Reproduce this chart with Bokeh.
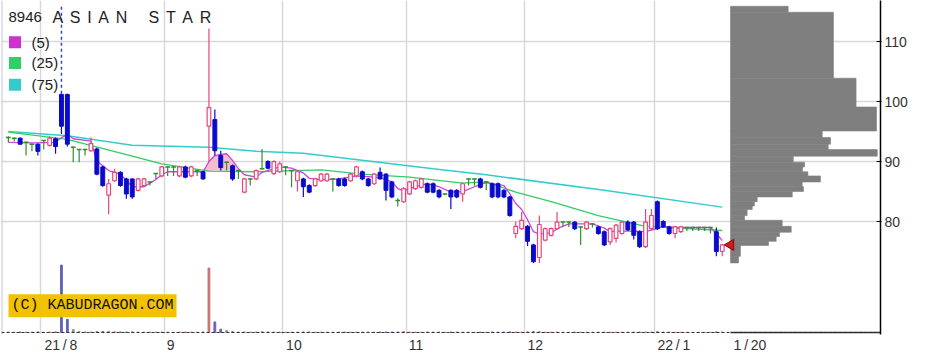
import math
from bokeh.plotting import figure
from bokeh.models import Range1d, FixedTicker, Label, Span
from bokeh.embed import file_html
from bokeh.resources import INLINE

# ---------------- data ----------------
opens = [94.0, 93.9, 93.9, 93.2, 92.9, 92.9, 93.5, 92.7, 93.8, 101.2,
         101.2, 92.4, 92.0, 92.0, 91.8, 92.1, 89.1, 84.4, 86.8, 88.2,
         87.1, 87.1, 85.2, 86.0, 86.6, 88.0, 87.6, 89.1, 89.1, 87.6,
         89.1, 87.6, 88.5, 88.3, 95.9, 97.0, 91.0, 89.9, 89.3, 88.5,
         84.9, 87.1, 87.1, 88.8, 90.0, 88.0, 88.3, 89.1, 88.5, 86.8,
         87.1, 86.0, 86.0, 86.8, 86.8, 87.1, 87.1, 87.1, 86.8, 87.6,
         88.3, 87.1, 86.3, 88.2, 87.9, 86.6, 83.5, 83.3, 84.6, 85.5,
         85.7, 86.3, 86.3, 85.2, 84.6, 85.2, 85.2, 84.6, 87.1, 87.1,
         87.1, 86.6, 86.3, 86.3, 85.2, 84.1, 78.0, 78.8, 79.2, 76.1,
         74.0, 76.9, 77.7, 78.8, 79.9, 79.9, 79.9, 79.1, 78.8, 79.6,
         79.1, 78.3, 76.6, 77.2, 78.0, 79.9, 79.9, 78.3, 75.8, 78.8,
         83.3, 80.0, 79.1, 78.0, 78.3, 79.0, 79.0, 79.0, 79.0, 79.0,
         78.3, 75.0]
closes = [94.0, 93.9, 92.9, 93.2, 92.9, 91.7, 93.5, 93.9, 92.5, 95.9,
          92.9, 92.4, 92.0, 92.0, 93.0, 87.9, 86.0, 86.3, 88.2, 86.0,
          84.6, 84.1, 87.1, 87.1, 86.6, 88.0, 89.1, 89.1, 89.1, 89.1,
          87.4, 89.1, 88.5, 87.1, 99.0, 91.8, 89.0, 89.9, 87.1, 88.5,
          87.1, 87.1, 88.5, 88.8, 88.9, 90.0, 89.6, 89.1, 88.5, 88.3,
          85.8, 84.9, 87.1, 87.9, 87.9, 87.1, 86.0, 86.0, 87.9, 89.1,
          87.1, 86.0, 87.9, 87.1, 85.2, 84.1, 83.5, 85.5, 86.6, 86.8,
          87.1, 84.9, 84.9, 84.1, 84.6, 84.1, 84.1, 86.3, 87.1, 87.1,
          85.7, 86.6, 84.1, 84.1, 84.1, 81.0, 79.2, 80.2, 76.7, 73.3,
          79.5, 78.8, 78.8, 79.9, 79.9, 79.9, 78.8, 79.1, 79.9, 79.6,
          78.0, 76.1, 78.8, 79.4, 79.9, 78.6, 77.7, 75.8, 79.9, 81.0,
          78.8, 79.1, 78.0, 79.1, 79.1, 79.0, 79.0, 79.0, 79.0, 79.0,
          75.0, 76.1]
highs = [94.2, 94.0, 94.0, 93.3, 93.0, 93.0, 93.5, 94.2, 94.0, 101.3,
         101.3, 92.5, 92.1, 92.1, 94.0, 92.3, 89.3, 87.1, 88.8, 88.4,
         87.3, 87.2, 87.3, 87.3, 86.7, 88.1, 89.2, 89.2, 89.2, 89.3,
         89.3, 89.3, 88.6, 88.4, 112.2, 98.7, 91.8, 90.0, 89.5, 88.6,
         87.3, 87.2, 88.7, 92.1, 90.2, 90.2, 90.0, 89.2, 88.6, 88.5,
         87.3, 86.2, 87.3, 88.1, 88.1, 87.2, 87.3, 87.3, 88.1, 89.3,
         88.5, 87.3, 88.1, 89.0, 88.1, 86.8, 83.9, 85.7, 86.8, 87.0,
         87.3, 86.5, 86.5, 85.4, 84.7, 85.4, 85.4, 86.5, 87.2, 87.2,
         87.3, 86.7, 86.5, 86.5, 85.4, 84.3, 80.0, 81.6, 79.4, 76.3,
         81.0, 79.0, 79.0, 81.6, 80.0, 80.0, 80.1, 79.2, 80.1, 79.7,
         79.3, 78.5, 79.0, 79.6, 80.1, 80.2, 80.1, 78.5, 82.1, 82.1,
         83.5, 80.2, 79.3, 79.3, 79.3, 79.1, 79.1, 79.1, 79.1, 79.1,
         79.0, 76.3]
lows = [93.2, 93.4, 92.8, 91.0, 91.7, 91.0, 92.0, 92.5, 91.3, 94.6,
        92.5, 89.9, 89.9, 91.0, 91.6, 87.7, 85.8, 81.2, 86.6, 85.8,
        83.8, 83.8, 85.0, 85.8, 86.0, 87.1, 87.4, 87.6, 87.6, 87.4,
        87.2, 87.4, 87.6, 87.0, 90.0, 91.0, 88.5, 88.5, 86.8, 87.1,
        84.7, 86.0, 86.9, 88.7, 88.7, 87.8, 88.1, 87.7, 85.7, 85.0,
        84.1, 84.7, 85.8, 86.6, 86.6, 85.0, 85.8, 85.8, 86.6, 87.4,
        86.9, 85.8, 86.1, 87.0, 83.5, 83.9, 82.5, 83.1, 84.4, 85.3,
        85.5, 84.7, 84.7, 83.9, 84.4, 82.1, 83.9, 83.3, 86.0, 86.0,
        85.5, 85.2, 83.9, 83.9, 83.9, 80.8, 77.2, 78.6, 75.9, 73.1,
        73.1, 76.7, 77.5, 78.6, 79.1, 79.1, 78.6, 76.1, 78.6, 79.0,
        77.8, 75.9, 76.1, 76.5, 77.8, 78.4, 77.0, 75.6, 75.6, 78.6,
        78.6, 78.9, 77.8, 77.2, 78.1, 78.4, 78.4, 78.4, 78.4, 78.0,
        74.2, 74.2]
volumes = [0.8, 0.6, 0.7, 0.5, 0.6, 0.8, 0.5, 0.7, 0.9, 100.0,
           19.6, 4.4, 1.5, 1.0, 0.8, 1.2, 1.4, 1.6, 1.0, 0.8,
           0.7, 0.9, 0.6, 0.5, 0.6, 0.7, 0.8, 0.6, 0.5, 0.6,
           0.5, 0.6, 0.5, 0.7, 95.6, 15.7, 4.9, 2.9, 1.2, 0.8,
           0.9, 0.6, 0.7, 1.3, 0.8, 0.6, 0.6, 0.5, 0.7, 0.6,
           0.8, 0.6, 0.5, 0.6, 0.5, 0.6, 0.5, 0.6, 0.5, 0.6,
           0.6, 0.5, 0.6, 0.7, 0.8, 0.7, 0.9, 1.4, 0.7, 0.6,
           0.5, 0.6, 0.5, 0.6, 0.5, 0.7, 0.5, 0.6, 0.5, 0.5,
           0.6, 0.5, 0.6, 0.5, 0.6, 0.9, 0.8, 0.7, 0.9, 1.2,
           1.1, 0.6, 0.5, 0.6, 0.4, 0.4, 0.5, 0.6, 0.4, 0.4,
           0.5, 0.6, 0.5, 0.5, 0.6, 0.5, 0.5, 0.7, 0.8, 0.9,
           1.0, 0.5, 0.5, 0.4, 0.4, 0.3, 0.3, 0.3, 0.3, 0.4,
           0.9, 0.6]
days = list(range(len(closes)))

# moving averages read at sample days
ma5_day = [0, 4, 8, 9, 10, 11, 14, 15, 17, 19, 21, 23, 24, 25, 26, 27, 33, 34, 35, 36, 37, 38,
           39, 40, 42, 43, 46, 48, 50, 51, 53, 56, 59, 61, 63, 65, 66, 67, 69, 71, 73, 75,
           77, 79, 81, 84, 85, 86, 87, 88, 89, 90, 92, 93, 95, 99, 101, 102, 104, 106, 108,
           110, 111, 113, 119, 120, 121]
ma5_val = [93.2, 93.1, 93.2, 94.0, 94.5, 93.8, 93.4, 90.1, 88.5, 87.9, 85.8, 85.8, 86.4, 87.0,
           87.8, 88.3, 88.3, 90.0, 91.0, 91.2, 91.3, 90.2, 88.8, 87.8, 87.4, 88.2, 89.1, 88.9,
           88.1, 87.2, 87.0, 87.1, 87.6, 87.5, 87.3, 86.6, 85.5, 85.1, 85.8, 86.3, 85.8, 84.9,
           85.0, 85.8, 86.5, 86.0, 84.6, 83.0, 82.0, 80.3, 78.3, 77.9, 78.1, 78.8, 79.6, 79.6,
           78.9, 78.3, 78.4, 78.4, 78.3, 78.8, 79.2, 79.0, 79.0, 78.0, 76.8]
ma25_day = [0, 10, 21, 26, 34, 42, 53, 60, 68, 77, 81, 86, 92, 100, 108, 121]
ma25_val = [94.9, 93.7, 90.9, 89.6, 88.4, 88.3, 88.6, 87.9, 87.4, 86.4, 86.6, 84.9, 83.3,
            81.0, 79.2, 78.5]
ma75_day = [0, 10, 21, 34, 42, 50, 61, 72, 81, 101, 121]
ma75_val = [95.0, 94.3, 92.7, 92.4, 91.7, 91.4, 90.1, 88.8, 87.8, 85.2, 82.4]

# shaded zone between MA5 and MA25 around the September spike
zone_day = [33, 34, 35, 36, 37, 38, 39]
zone_lo = [88.4, 88.4, 88.5, 88.5, 88.5, 88.5, 88.5]
zone_hi = [88.4, 90.0, 91.0, 91.2, 91.3, 90.2, 88.6]

# volume-at-price profile (price band edges, relative volume)
vp_edges = [115.9, 114.9, 103.9, 99.1, 95.1, 94.0, 92.9, 92.0, 90.9, 89.9, 89.1, 88.3,
            87.6, 86.6, 85.8, 85.0, 84.1, 83.3, 82.6, 82.0, 81.0, 80.2, 79.2, 78.2,
            77.5, 76.7, 76.0, 74.2, 73.1]
vp_volume = [39.5, 70.5, 86.0, 100.0, 62.8, 68.5, 66.9, 100.5, 43.0, 50.7, 49.3, 53.0,
             61.6, 49.1, 50.0, 42.3, 18.3, 16.4, 14.9, 11.4, 9.6, 35.4, 41.6, 33.6,
             31.3, 26.0, 6.8, 5.5]

month_labels = ["21\u2009/\u20098", "9", "10", "11", "12", "22\u2009/\u20091", "1\u2009/\u200920"]
month_label_day = [8.9, 27.5, 48.4, 69.1, 89.3, 112.8, 125.7]
month_start_day = [5.5, 26.5, 46.5, 67.5, 87.5, 109.5]
price_ticks = [80, 90, 100, 110]
spike_marker_day = [9]

# ---------------- layout helpers (page pixels -> data) ----------------
W, H = 946, 355
FL, FR, FT, FB = 1, 880, 0, 337
X0, DX = 7.85, 5.9
Y80, PPU = 223.0, 6.05
VP_LEFT_PX, VP_PPU = 730.0, 1.46
VOL_BASE_PX, VOL_PPU = 335.0, 0.68


def dx(px):
    return (px - X0) / DX


def dy(py):
    return 80 + (Y80 - py) / PPU


x_range = Range1d(dx(FL), dx(FR))
y_range = Range1d(dy(FB), dy(FT))

p = figure(width=W, height=H, output_backend="svg", toolbar_location=None,
           x_range=x_range, y_range=y_range, y_axis_location="right",
           min_border_left=FL, min_border_right=W - FR, min_border_top=FT,
           min_border_bottom=H - FB)
p.outline_line_color = None
p.background_fill_color = "white"
p.border_fill_color = "white"

p.extra_y_ranges = {"vol": Range1d(-(FB - VOL_BASE_PX) / VOL_PPU, VOL_BASE_PX / VOL_PPU)}
p.extra_x_ranges = {"vp": Range1d(-(VP_LEFT_PX - FL) / VP_PPU, (FR - VP_LEFT_PX) / VP_PPU)}

# axes and grids
p.yaxis.ticker = FixedTicker(ticks=price_ticks)
p.yaxis.axis_line_color = "black"
p.yaxis.axis_line_width = 1.5
p.yaxis.major_tick_in = 4
p.yaxis.major_tick_out = 1
p.yaxis.major_tick_line_color = "black"
p.yaxis.minor_tick_line_color = None
p.yaxis.minor_tick_in = 0
p.yaxis.minor_tick_out = 0
p.yaxis.major_label_text_font = "Liberation Sans"
p.yaxis.major_label_text_font_size = "14px"
p.yaxis.major_label_text_color = "#333333"
p.yaxis.major_label_standoff = 3

p.xaxis.ticker = FixedTicker(ticks=month_label_day)
p.xaxis.major_label_overrides = {d: t for d, t in zip(month_label_day, month_labels)}
p.xaxis.axis_line_color = None
p.xaxis.major_tick_line_color = None
p.xaxis.minor_tick_line_color = None
p.xaxis.major_tick_in = 0
p.xaxis.major_tick_out = 0
p.xaxis.minor_tick_in = 0
p.xaxis.minor_tick_out = 0
p.xaxis.major_label_text_font = "Liberation Sans"
p.xaxis.major_label_text_font_size = "14px"
p.xaxis.major_label_text_color = "#333333"
p.xaxis.major_label_standoff = 2

p.xgrid.ticker = FixedTicker(ticks=month_start_day)
p.xgrid.grid_line_color = "#d8d8d8"
p.xgrid.grid_line_width = 1.5
p.ygrid.grid_line_color = "#d8d8d8"
p.ygrid.grid_line_width = 1.5

p.add_layout(Span(location=dx(FL), dimension="height", line_color="#c4c4dc", line_width=2))

# volume bars
UP, DOWN, EVEN = "#e8457a", "#0a0acc", "#2f8f2f"
cand_col = [UP if c > o else (DOWN if c < o else EVEN) for o, c in zip(opens, closes)]
vol_col = ["#cc7070" if c > o else ("#6262b8" if c < o else "#80a080")
           for o, c in zip(opens, closes)]
p.vbar(x=days, top=volumes, bottom=0, width=0.3, color=vol_col, y_range_name="vol")
p.add_layout(Span(location=0, dimension="width", y_range_name="vol",
                  line_color="#333333", line_dash="3 2", line_width=1.2))

# moving averages
p.varea(x=zone_day, y1=zone_lo, y2=zone_hi, fill_color="#f5b5cc", fill_alpha=0.9)
p.line(ma75_day, ma75_val, line_color="#33cccc", line_width=1.5)
p.line(ma25_day, ma25_val, line_color="#33cc66", line_width=1.3)
p.line(ma5_day, ma5_val, line_color="#cc44dd", line_width=1.3)

# dashed event marker above the August spike
p.segment(x0=spike_marker_day, x1=spike_marker_day,
          y0=[highs[d] for d in spike_marker_day], y1=[dy(5)] * len(spike_marker_day),
          line_color="#3344cc", line_dash="3 3", line_width=1.5)

# candles
p.segment(x0=days, x1=days, y0=lows, y1=highs, line_color=cand_col, line_width=1.2)
up_i = [i for i in days if closes[i] > opens[i]]
dn_i = [i for i in days if closes[i] < opens[i]]
ev_i = [i for i in days if closes[i] == opens[i]]
p.vbar(x=up_i, top=[closes[i] for i in up_i], bottom=[opens[i] for i in up_i], width=0.62,
       fill_color="white", line_color=UP, line_width=1.2)
p.vbar(x=dn_i, top=[opens[i] for i in dn_i], bottom=[closes[i] for i in dn_i], width=0.66,
       fill_color=DOWN, line_color=DOWN, line_width=1)
p.segment(x0=[i - 0.4 for i in ev_i], x1=[i + 0.4 for i in ev_i],
          y0=[opens[i] for i in ev_i], y1=[opens[i] for i in ev_i],
          line_color=EVEN, line_width=1.5)

# volume-at-price histogram
vp_mid = [(a + b) / 2 for a, b in zip(vp_edges[:-1], vp_edges[1:])]
vp_h = [a - b for a, b in zip(vp_edges[:-1], vp_edges[1:])]
p.hbar(y=vp_mid, height=vp_h, left=0, right=vp_volume, x_range_name="vp",
       fill_color="#7f7f7f", line_color="#7f7f7f", line_width=0.6)
p.segment(x0=[0], x1=[(FR - VP_LEFT_PX) / VP_PPU], y0=[0], y1=[0], x_range_name="vp",
          y_range_name="vol", line_color="#222222", line_width=1.5)

# current price marker
p.scatter(x=[days[-1] + 1.4], y=[closes[-1]], marker="triangle", angle=math.pi / 2,
          size=11, fill_color="#e01515", line_color="#701010", line_width=1)

# titles and legend
p.add_layout(Label(x=dx(8), y=dy(17), text="8946", text_baseline="middle",
                   text_font="Liberation Sans", text_font_size="15px",
                   text_color="#222222"))
sp = "\u2004\u200a"
word_gap = "\u2003\u2004"
p.add_layout(Label(x=dx(52), y=dy(17), text=sp.join("ASIAN") + word_gap + sp.join("STAR"),
                   text_baseline="middle", text_font="Liberation Sans",
                   text_font_size="16px", text_color="#222222"))
legend_cols = ["#cc33cc", "#33cc66", "#33cccc"]
legend_txt = ["(5)", "(25)", "(75)"]
legend_py = [42, 63, 85]
p.scatter(x=[dx(14.5)] * 3, y=[dy(v) for v in legend_py], marker="square", size=12,
          fill_color=legend_cols, line_color=None)
for t, py in zip(legend_txt, legend_py):
    p.add_layout(Label(x=dx(31), y=dy(py), text=t, text_baseline="middle",
                       text_font="Liberation Sans", text_font_size="15px",
                       text_color="#222222"))

p.add_layout(Label(x=dx(8), y=dy(308), text="(C) KABUDRAGON.COM", text_baseline="middle",
                   text_font="Liberation Mono", text_font_size="15px",
                   text_color="#111111", background_fill_color="#f2c200",
                   padding=3))

open("out.html", "w").write(file_html(p, INLINE))
